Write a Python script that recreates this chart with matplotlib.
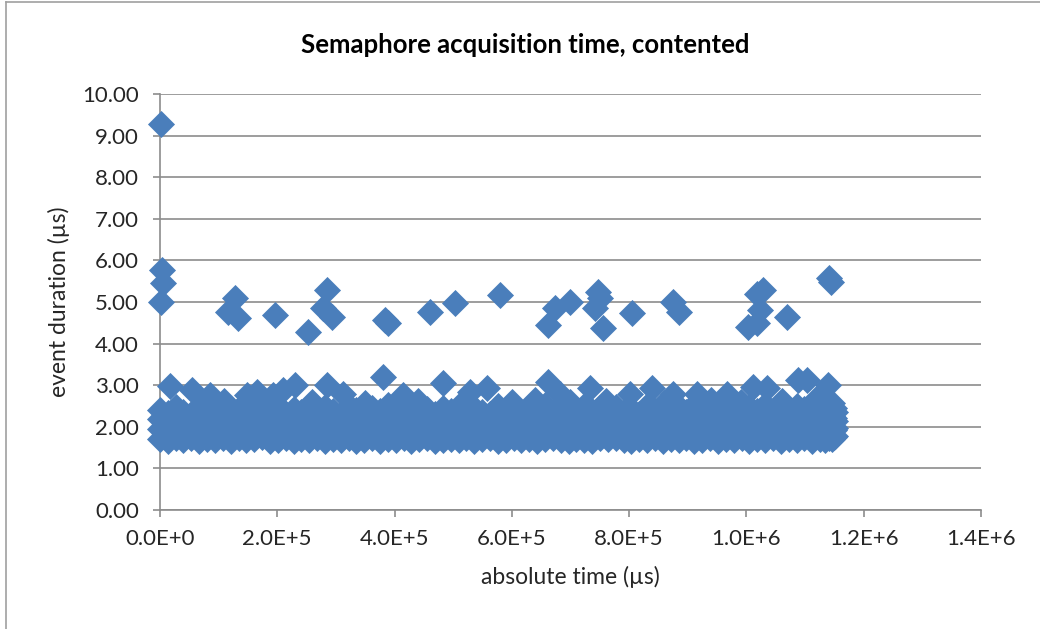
import numpy as np
import matplotlib.pyplot as plt
from matplotlib.lines import Line2D
from matplotlib.ticker import FuncFormatter, MultipleLocator

plt.rcParams['font.family'] = ['Lato', 'DejaVu Sans']

# main band: sample times (µs) with durations (µs) at four levels of the band
band_t = [0, 13200, 26800, 40100, 53700, 67000, 80400, 93900, 107300, 120600,
          134100, 147500, 160800, 174300, 187600, 201000, 214500, 227900, 241200, 254700,
          268100, 281400, 294800, 308300, 321600, 335000, 348500, 361900, 375200, 388600,
          402100, 415400, 428800, 442300, 455700, 469000, 482400, 495900, 509300, 522600,
          536000, 549500, 562900, 576200, 589600, 603100, 616400, 629800, 643300, 656700,
          670000, 683400, 696900, 710200, 723600, 737100, 750500, 763800, 777200, 790700,
          804000, 817400, 830900, 844300, 857600, 871000, 884500, 897800, 911200, 924700,
          938100, 951400, 964800, 978300, 991600, 1005000, 1018500, 1031900, 1045200, 1058600,
          1072100, 1085400, 1098800, 1112300, 1125700, 1134000, 1141000, 1146000, 1149000, 1151000]
band_lo = [1.70, 1.66, 1.72, 1.68, 1.74, 1.67, 1.71, 1.69, 1.73, 1.66,
           1.72, 1.68, 1.70, 1.75, 1.67, 1.69, 1.73, 1.66, 1.71, 1.68,
           1.74, 1.67, 1.70, 1.68, 1.72, 1.66, 1.69, 1.73, 1.67, 1.71,
           1.68, 1.72, 1.66, 1.70, 1.74, 1.67, 1.69, 1.71, 1.68, 1.73,
           1.66, 1.70, 1.72, 1.67, 1.69, 1.74, 1.68, 1.71, 1.66, 1.70,
           1.73, 1.68, 1.67, 1.71, 1.69, 1.66, 1.72, 1.70, 1.74, 1.68,
           1.67, 1.71, 1.69, 1.73, 1.66, 1.70, 1.68, 1.72, 1.67, 1.69,
           1.74, 1.66, 1.70, 1.68, 1.72, 1.67, 1.71, 1.69, 1.73, 1.66,
           1.70, 1.68, 1.72, 1.67, 1.71, 1.69, 1.73, 1.70, 1.75, 1.78]
band_mid = [1.95, 1.90, 1.98, 1.92, 1.96, 1.89, 2.00, 1.93, 1.97, 1.91,
            1.94, 1.99, 1.90, 1.96, 1.92, 1.98, 1.89, 1.95, 2.01, 1.93,
            1.97, 1.91, 1.95, 1.99, 1.90, 1.94, 1.98, 1.92, 1.96, 1.89,
            2.00, 1.93, 1.97, 1.91, 1.95, 1.99, 1.90, 1.94, 1.98, 1.92,
            1.96, 1.89, 1.94, 2.00, 1.93, 1.97, 1.91, 1.95, 1.99, 1.90,
            1.94, 1.98, 1.92, 1.96, 1.89, 1.95, 2.01, 1.93, 1.97, 1.91,
            1.95, 1.99, 1.90, 1.94, 1.98, 1.92, 1.96, 1.89, 1.95, 2.00,
            1.93, 1.97, 1.91, 1.95, 1.99, 1.90, 1.94, 1.98, 1.92, 1.96,
            1.89, 1.95, 2.00, 1.93, 1.97, 1.91, 1.95, 1.99, 1.92, 1.96]
band_hi = [2.18, 2.14, 2.22, 2.16, 2.20, 2.13, 2.19, 2.23, 2.15, 2.21,
           2.17, 2.12, 2.20, 2.24, 2.14, 2.18, 2.22, 2.16, 2.13, 2.19,
           2.21, 2.15, 2.18, 2.23, 2.12, 2.17, 2.20, 2.14, 2.22, 2.16,
           2.19, 2.13, 2.21, 2.17, 2.24, 2.15, 2.18, 2.22, 2.14, 2.20,
           2.16, 2.23, 2.12, 2.19, 2.21, 2.15, 2.18, 2.13, 2.22, 2.17,
           2.20, 2.14, 2.24, 2.16, 2.19, 2.12, 2.21, 2.18, 2.15, 2.23,
           2.13, 2.20, 2.17, 2.22, 2.15, 2.19, 2.14, 2.21, 2.18, 2.24,
           2.16, 2.22, 2.12, 2.19, 2.23, 2.17, 2.20, 2.14, 2.21, 2.15,
           2.18, 2.24, 2.16, 2.20, 2.13, 2.22, 2.19, 2.26, 2.21, 2.15]
band_top = [2.40, 2.32, 2.48, 2.36, 2.30, 2.44, 2.38, 2.31, 2.46, 2.34,
            2.42, 2.52, 2.33, 2.45, 2.37, 2.50, 2.31, 2.43, 2.35, 2.51,
            2.34, 2.47, 2.39, 2.30, 2.49, 2.41, 2.33, 2.46, 2.37, 2.53,
            2.32, 2.44, 2.48, 2.35, 2.42, 2.30, 2.46, 2.38, 2.51, 2.33,
            2.45, 2.36, 2.31, 2.49, 2.40, 2.44, 2.30, 2.47, 2.37, 2.52,
            2.34, 2.46, 2.41, 2.30, 2.50, 2.38, 2.44, 2.32, 2.48, 2.36,
            2.43, 2.31, 2.51, 2.39, 2.45, 2.33, 2.47, 2.36, 2.53, 2.32,
            2.41, 2.49, 2.34, 2.44, 2.30, 2.48, 2.39, 2.52, 2.33, 2.46,
            2.37, 2.50, 2.43, 2.32, 2.47, 2.38, 2.52, 2.56, 2.45, 2.36]

# scattered events just above the band
upper_t = [17000, 54600, 85300, 148300, 165400, 192700, 209700, 230200, 284700, 312000,
           380200, 414300, 482500, 528600, 557600, 661500, 682000, 733200, 801400, 838900,
           874700, 915600, 966800, 1011100, 1035000, 1087800, 1103200, 1139000, 1142400,
           110000, 260000, 350000, 440000, 600000, 640000, 700000, 760000, 860000, 940000,
           990000, 1060000, 1120000]
upper_y = [2.97, 2.88, 2.76, 2.76, 2.84, 2.76, 2.88, 3.00, 3.00, 2.80,
           3.20, 2.76, 3.05, 2.84, 2.93, 3.08, 2.80, 2.93, 2.80, 2.93,
           2.80, 2.80, 2.80, 2.96, 2.93, 3.12, 3.12, 3.00, 2.57,
           2.62, 2.60, 2.58, 2.62, 2.60, 2.65, 2.60, 2.63, 2.58, 2.65,
           2.60, 2.62, 2.68]

# slow acquisitions
out_t = [1000, 2900, 5100, 1500, 127900, 115900, 133000, 196100, 252300, 284700,
         277900, 293300, 388700, 383600, 460400, 503000, 579700, 673500, 661500, 699000,
         746800, 750200, 741700, 755300, 804800, 874700, 884900, 1017900, 1028100, 1023000,
         1002500, 1017900, 1069000, 1141000, 1143500]
out_y = [9.28, 5.77, 5.46, 5.00, 5.10, 4.76, 4.62, 4.69, 4.28, 5.29,
         4.85, 4.64, 4.50, 4.57, 4.76, 4.97, 5.17, 4.85, 4.45, 5.00,
         5.24, 5.10, 4.85, 4.38, 4.73, 5.00, 4.76, 5.20, 5.29, 4.80,
         4.40, 4.50, 4.64, 5.58, 5.48]

t = np.concatenate([band_t, band_t, band_t, band_t, upper_t, out_t])
d = np.concatenate([band_lo, band_mid, band_hi, band_top, upper_y, out_y])

blue = '#4a7ebb'
grid = '#8c8c8c'
txt = '#262626'

fig = plt.figure(figsize=(10.4, 6.29), dpi=100)
ax = fig.add_axes([0.1538, 0.1892, 0.7895, 0.6614])

ax.scatter(t, d, marker='D', s=190, color=blue, linewidths=0, clip_on=False, zorder=3)

ax.set_xlim(0, 1.4e6)
ax.set_ylim(0, 10)
ax.xaxis.set_major_locator(MultipleLocator(2e5))
ax.yaxis.set_major_locator(MultipleLocator(1))


def sci(v, pos):
    m, e = f'{v:.1E}'.split('E')
    return f'{m}E{e[0]}{int(e[1:])}'


ax.xaxis.set_major_formatter(FuncFormatter(sci))
ax.yaxis.set_major_formatter(FuncFormatter(lambda v, p: f'{v:.2f}'))

ax.grid(axis='y', color=grid, linewidth=1.2)
ax.set_axisbelow(True)
for s in ['top', 'right']:
    ax.spines[s].set_visible(False)
for s in ['left', 'bottom']:
    ax.spines[s].set_color(grid)
    ax.spines[s].set_linewidth(1.2)
ax.tick_params(axis='both', colors=grid, length=5, width=1.2, labelcolor=txt,
               labelsize=16)
ax.tick_params(axis='y', pad=10)
ax.tick_params(axis='x', pad=9)

ax.set_xlabel('absolute time (µs)', fontsize=16.5, color=txt, labelpad=12)
ax.set_ylabel('event duration (µs)', fontsize=16.5, color=txt, labelpad=9)
fig.text(0.505, 0.928, 'Semaphore acquisition time, contented', ha='center', va='center',
         fontsize=18.5, fontweight='bold', color='black')

# outer chart frame (left and top edges)
fig.add_artist(Line2D([0.006, 0.006], [0, 0.997], color='#a0a0a0', linewidth=1.2))
fig.add_artist(Line2D([0.006, 1], [0.997, 0.997], color='#a0a0a0', linewidth=1.2))

fig.savefig('out.png', dpi=100, facecolor='white')
